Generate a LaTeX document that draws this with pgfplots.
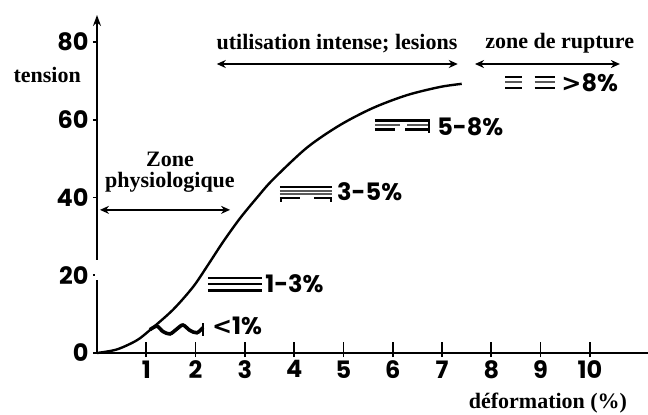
\documentclass[border=0pt]{standalone}
\usepackage{pgfplots}
\pgfplotsset{compat=1.18}
\usepackage{fontspec}
\setmainfont{Liberation Serif}
\newfontfamily\numfont{Poppins}
\newfontfamily\symfont{DejaVu Sans}
\usetikzlibrary{arrows.meta}

\begin{document}
\begin{tikzpicture}[
  lbl/.style={font=\fontsize{22}{22}\selectfont\bfseries},
  pct/.style={font=\numfont\fontsize{24}{26}\selectfont\bfseries, anchor=west, inner sep=0pt},
  dbl/.style={line width=2pt, {Stealth[length=9pt,width=8pt]}-{Stealth[length=9pt,width=8pt]}},
  hatch/.style={line width=2.6pt},
  fine/.style={line width=1.8pt, black!65},
]
\begin{axis}[
  scale only axis, width=551pt, height=338pt,
  xmin=0, xmax=11.18, ymin=0, ymax=86.9,
  axis lines=left,
  x axis line style={-, line width=2.2pt},
  y axis line style={-{Stealth[length=11pt,width=8pt]}, line width=2.2pt},
  xtick={1,...,10}, ytick={0,20,40,60,80},
  tick align=outside, major tick length=4pt,
  tick style={line width=1.8pt, black},
  /pgf/number format/assume math mode=true,
  ticklabel style={font=\numfont\fontsize{24}{24}\selectfont\bfseries},
  xticklabel style={yshift=0pt},
  yticklabel style={xshift=-1pt},
  clip=false,
]
% break in the y axis line, as in the original drawing
\draw[white, line width=4pt] (axis cs:0,18.8) -- (axis cs:0,23.9);
% x tick marks crossing the axis
\addplot[only marks, black, mark=|, mark size=7pt, mark options={line width=1.8pt, draw=black}] coordinates {
  (1,1.0) (2,1.0) (3,1.0) (4,1.0) (5,1.0) (6,1.0) (7,1.0) (8,1.0) (9,1.0) (10,1.0)
};
% stress-strain curve
\addplot[black, line width=2.4pt, smooth] coordinates {
  (0,0) (0.4,0.9) (0.8,3.2) (1.075,5.9) (1.54,11.1) (1.95,17.0) (2.25,22.6)
  (2.56,28.6) (2.90,34.6) (3.25,40.0) (3.57,44.6) (4.26,52.8) (4.93,58.6)
  (5.60,63.0) (6.29,66.3) (6.96,68.4) (7.40,69.2)
};
% <1% wavy fibres
\addplot[black, line width=3.6pt, smooth] coordinates {
  (1.075,6.0) (1.217,6.9) (1.339,5.5) (1.481,4.9) (1.623,6.2)
  (1.744,7.2) (1.886,5.8) (2.028,5.2) (2.150,6.5)
};
\draw[line width=2.4pt] (axis cs:2.15,4.4) -- (axis cs:2.15,7.8);
\node[pct] at (axis cs:2.33,6.9) {{\symfont\bfseries <}1\%};

% 1-3%
\draw[hatch] (axis cs:2.25,19.3) -- (axis cs:3.35,19.3);
\draw[hatch] (axis cs:2.25,17.7) -- (axis cs:3.35,17.7);
\draw[hatch] (axis cs:2.25,16.1) -- (axis cs:3.35,16.1);
\node[pct] at (axis cs:3.41,17.7) {1-3\%};

% 3-5%
\draw[hatch] (axis cs:3.71,42.7) -- (axis cs:4.77,42.7);
\draw[fine] (axis cs:3.71,41.6) -- (axis cs:4.77,41.6);
\draw[fine] (axis cs:3.71,40.8) -- (axis cs:4.77,40.8);
\draw[hatch] (axis cs:3.71,39.8) -- (axis cs:4.12,39.8);
\draw[hatch] (axis cs:4.40,39.8) -- (axis cs:4.77,39.8);
\draw[line width=2pt] (axis cs:3.73,39.8) -- (axis cs:3.73,38.7);
\draw[line width=2pt] (axis cs:4.75,39.8) -- (axis cs:4.75,38.7);
\node[pct] at (axis cs:4.87,41.4) {3-5\%};

% 5-8%
\draw[hatch] (axis cs:5.64,59.7) -- (axis cs:6.75,59.7);
\draw[fine] (axis cs:5.64,58.6) -- (axis cs:6.15,58.6);
\draw[fine] (axis cs:6.30,58.6) -- (axis cs:6.75,58.6);
\draw[hatch] (axis cs:5.64,57.4) -- (axis cs:6.04,57.4);
\draw[hatch] (axis cs:6.25,57.4) -- (axis cs:6.75,57.4);
\draw[line width=2pt] (axis cs:6.73,59.7) -- (axis cs:6.73,56.6);
\node[pct] at (axis cs:6.90,58.2) {5-8\%};

% >8%
\draw[line width=2pt] (axis cs:8.28,70.9) -- (axis cs:8.62,70.9);
\draw[fine] (axis cs:8.28,69.6) -- (axis cs:8.62,69.6);
\draw[line width=2pt] (axis cs:8.28,68.2) -- (axis cs:8.62,68.2);
\draw[line width=2pt] (axis cs:8.88,70.9) -- (axis cs:9.29,70.9);
\draw[fine] (axis cs:8.88,69.6) -- (axis cs:9.29,69.6);
\draw[line width=2pt] (axis cs:8.88,68.2) -- (axis cs:9.29,68.2);
\node[pct] at (axis cs:9.42,69.4) {{\symfont\bfseries >}8\%};

% zones
\node[lbl] at (axis cs:4.87,79.6) {utilisation intense; lesions};
\draw[dbl] (axis cs:2.43,74.3) -- (axis cs:7.32,74.3);
\node[lbl] at (axis cs:9.39,79.6) {zone de rupture};
\draw[dbl] (axis cs:7.67,74.3) -- (axis cs:10.61,74.3);
\node[lbl, align=center, font=\fontsize{22}{21}\selectfont\bfseries] at (axis cs:1.48,46.6) {Zone\\physiologique};
\draw[dbl] (axis cs:0.06,36.8) -- (axis cs:2.70,36.8);

% axis titles
\node[lbl] at (axis cs:-1.01,71.6) {tension};
\node[lbl] at (axis cs:9.15,-12.9) {déformation (\%)};

\coordinate (O) at (axis cs:0,0);
\end{axis}
\pgfresetboundingbox
\path (O) ++(-97pt,-62pt) rectangle ++(648pt,415pt);
\end{tikzpicture}
\end{document}
